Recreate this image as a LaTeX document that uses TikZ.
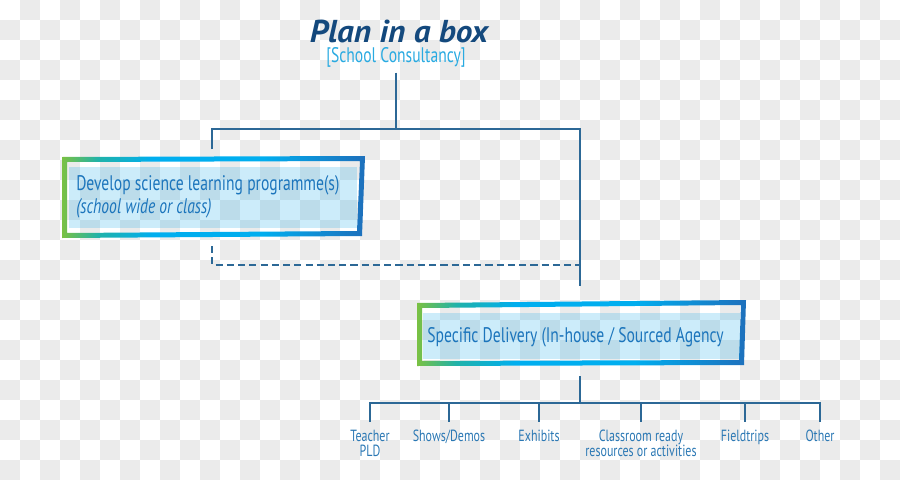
\documentclass[tikz,border=0pt]{standalone}
\usepackage{fontspec}
\setmainfont{PT Sans}[FakeStretch=0.74]
\newfontfamily\ttlfont{PT Sans}[FakeStretch=1.05]

\definecolor{chk}{RGB}{235,235,235}
\definecolor{linec}{RGB}{44,104,150}
\definecolor{ttlc}{RGB}{20,73,125}
\definecolor{subc}{RGB}{41,170,225}
\definecolor{txtc}{RGB}{28,117,188}
\definecolor{leafc}{RGB}{43,120,180}
\definecolor{fgreen}{RGB}{122,193,67}
\definecolor{fteal}{RGB}{32,178,170}
\definecolor{fcyan}{RGB}{0,174,239}
\definecolor{fblue}{RGB}{30,112,188}
\definecolor{fillc}{RGB}{0,160,230}

\pgfdeclarehorizontalshading{frameshade}{100bp}{color(0bp)=(fgreen);
  color(25bp)=(fgreen); color(31bp)=(fteal); color(40bp)=(fcyan);
  color(58bp)=(fcyan); color(75bp)=(fblue); color(100bp)=(fblue)}

\begin{document}
\begin{tikzpicture}[
    x=0.025cm, y=-0.025cm,
    ln/.style={draw=linec, line width=1.4pt},
    dl/.style={draw=linec, line width=1.3pt, dash pattern=on 5pt off 3pt},
    frm/.style={shading=frameshade, even odd rule},
    pane/.style={fill=fillc, fill opacity=0.2},
    txt/.style={text=txtc, anchor=west, align=left, inner sep=0pt,
                font=\fontsize{15}{16.3}\selectfont},
    leaf/.style={text=leafc, anchor=north, align=center, inner xsep=1pt,
                 inner ysep=5.5pt, font=\fontsize{11.5}{10.8}\selectfont}
]
  \useasboundingbox (0,0) rectangle (900,480);

  % ================= background =================
  \foreach \i in {0,...,44}
    \foreach \j in {0,...,23}{
      \pgfmathtruncatemacro\k{mod(\i+\j,2)}
      \ifnum\k=1 \fill[chk] (20*\i,20*\j) rectangle ++(20,20); \fi
    }

  % ================= title =================
  \node[text=ttlc, inner sep=0pt, text depth=0pt,
        font=\ttlfont\bfseries\itshape\fontsize{22.5}{24}\selectfont]
       (plan) at (399,31) {Plan in a box};
  \node[text=subc, inner sep=0pt, text height=9.5pt, text depth=3pt,
        font=\fontsize{15}{16}\selectfont]
       (consult) at (396,58) {[School Consultancy]};

  % ================= programme box =================
  \shade[frm] (62,157) -- (365,156) -- (362,236) -- (62,238) -- cycle
              (67,162) -- (360,161) -- (357,231) -- (67,233) -- cycle;
  \fill[pane] (69,167) rectangle (357,228);
  \node[txt] (develop) at (76,197)
       {Develop science learning programme(s)\\\textit{(school wide or class)}};

  % ================= delivery box =================
  \shade[frm] (417,303) -- (746,300) -- (744,365) -- (417,366) -- cycle
              (422,308) -- (741,305) -- (739,360) -- (422,361) -- cycle;
  \fill[pane] (423,313) rectangle (740,359);
  \node[txt] (delivery) at (427,337) {Specific Delivery (In-house / Sourced Agency};

  % ================= delivery options =================
  \node[leaf] (pld)        at (370,422) {Teacher\\PLD};
  \node[leaf] (shows)      at (449,422) {Shows/Demos};
  \node[leaf] (exhibits)   at (539,422) {Exhibits};
  \node[leaf] (classroom)  at (641,422) {Classroom ready\\resources or activities};
  \node[leaf] (fieldtrips) at (745,422) {Fieldtrips};
  \node[leaf] (other)      at (820,422) {Other};

  % ================= connectors =================
  \coordinate (fork) at (396,129);
  \coordinate (dtop) at (212,149);
  \coordinate (dbot) at (212,246);
  \coordinate (sin)  at (580,286);
  \coordinate (join) at (580,265);
  \coordinate (sout) at (580,376);
  \coordinate (bus)  at (580,403);

  \draw[ln] ([yshift=-4pt]consult.south) -- (fork);
  \draw[ln] (dtop) |- (fork) -| (sin);
  \draw[dl] (dbot) |- (join);
  \draw[ln] (sout) -- (bus);
  \draw[ln] (pld.north) -- (pld.north |- bus) -- (other.north |- bus)
            -- (other.north);
  \foreach \n in {shows,exhibits,classroom,fieldtrips}
    \draw[ln] (\n.north |- bus) -- (\n.north);

\end{tikzpicture}
\end{document}
